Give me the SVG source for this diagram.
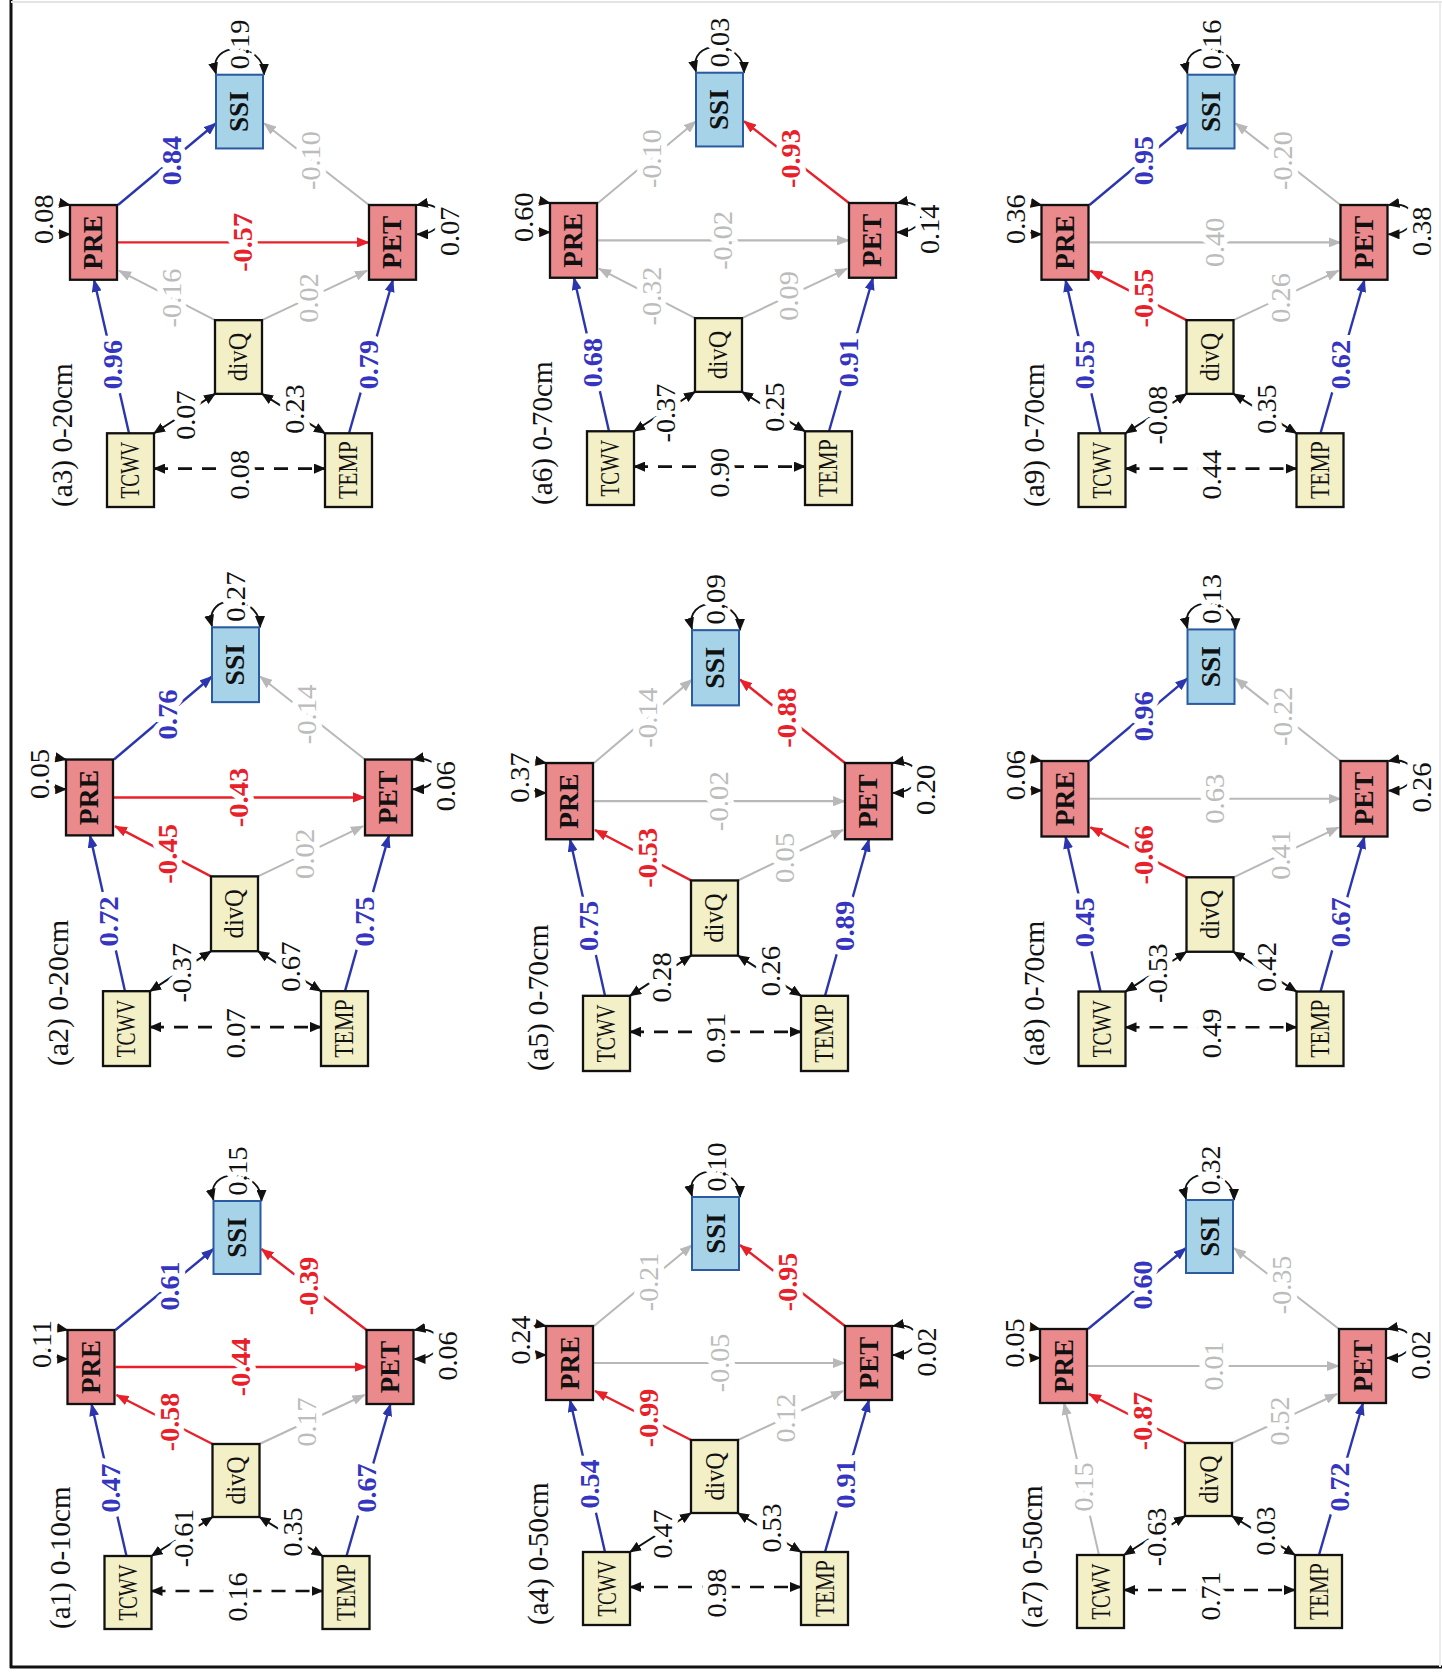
<svg xmlns="http://www.w3.org/2000/svg" width="1442" height="1675" viewBox="0 0 1442 1675">
<style>
  .title { font-family: "Liberation Serif", serif; font-size: 29px; fill: #111; }
  .nt { font-family: "Liberation Serif", serif; font-size: 27px; fill: #111; text-anchor: middle; dominant-baseline: central; }
  .nb { font-weight: bold; }
  .yl { fill: #f3efc6; stroke: #111; stroke-width: 2.3; }
  .rd { fill: #ea8a8c; stroke: #111; stroke-width: 2.3; }
  .bl { fill: #a7d3e8; stroke: #2a5aa0; stroke-width: 2; }
  .e { fill: none; stroke-width: 2.4; }
  .b { stroke: #2b36ae; marker-end: url(#ab); }
  .r { stroke: #e8202a; marker-end: url(#ar); }
  .g { stroke: #b8b8b8; stroke-width: 2; marker-end: url(#ag); }
  .cov { fill: none; stroke: #111; stroke-width: 2; marker-start: url(#ak); marker-end: url(#ak); }
  .dash { stroke-width: 2.6; stroke-dasharray: 14 10; }
  .res { fill: none; stroke: #111; stroke-width: 1.8; marker-start: url(#ak); marker-end: url(#ak); }
  .lab { font-family: "Liberation Serif", serif; font-size: 28px; text-anchor: middle; dominant-baseline: central; stroke: #fff; stroke-width: 12; stroke-linejoin: round; paint-order: stroke; }
  .lb { fill: #3535c0; font-weight: bold; }
  .lr { fill: #e8202a; font-weight: bold; }
  .lg { fill: #bcbcbc; }
  .lk { fill: #111; }
</style>
<defs>
  <marker id="ab" viewBox="0 0 13 10" refX="12" refY="5" markerWidth="13" markerHeight="10" markerUnits="userSpaceOnUse" orient="auto"><path d="M0 0 L13 5 L0 10 z" fill="#2b36ae"/></marker>
  <marker id="ar" viewBox="0 0 13 10" refX="12" refY="5" markerWidth="13" markerHeight="10" markerUnits="userSpaceOnUse" orient="auto"><path d="M0 0 L13 5 L0 10 z" fill="#e8202a"/></marker>
  <marker id="ag" viewBox="0 0 13 10" refX="12" refY="5" markerWidth="13" markerHeight="10" markerUnits="userSpaceOnUse" orient="auto"><path d="M0 0 L13 5 L0 10 z" fill="#b8b8b8"/></marker>
  <marker id="ak" viewBox="0 0 12 10" refX="11" refY="5" markerWidth="12" markerHeight="10" markerUnits="userSpaceOnUse" orient="auto-start-reverse"><path d="M0 0 L12 5 L0 10 z" fill="#111"/></marker>
</defs>

<rect width="1442" height="1675" fill="#fff"/>
<!-- frame -->
<g id="frame">
  <line x1="11" y1="0" x2="11" y2="1668" stroke="#111" stroke-width="3"/>
  <line x1="10" y1="1667" x2="1442" y2="1667" stroke="#111" stroke-width="3"/>
  <line x1="11" y1="2" x2="1442" y2="2" stroke="#e4e4e4" stroke-width="2"/>
  <line x1="1440" y1="2" x2="1440" y2="1667" stroke="#ececec" stroke-width="2"/>
</g>

<!-- ===== (a1) ===== -->
<g id="a1" transform="translate(104.5 1629) rotate(-90)">
  <text class="title" x="0" y="-35">(a1) 0-10cm</text>
  <g id="a1-links">
    <path class="e b" d="M73 22 L225 -13"/>
    <path class="e b" d="M73 242 L225 286"/>
    <path class="e r" d="M185 108 L234 12"/>
    <path class="e g" d="M185 155 L234 260"/>
    <path class="e r" d="M262 11 L262 262"/>
    <path class="e b" d="M299 11 L380 109"/>
    <path class="e r" d="M299 262 L380 157"/>
    <path class="cov dash" d="M38 47 L38 218"/>
    <path class="cov" d="M73 47 L112 108"/>
    <path class="cov" d="M112 155 L73 218"/>
    <path class="res" d="M270 -37 C270 -70 305 -68 299 -37"/>
    <path class="res" d="M270 310 C270 343 305 341 299 310"/>
    <path class="res" d="M428 157 C462 157 462 100 429 109"/>
    <text class="lab lb" x="141" y="6">0.47</text>
    <text class="lab lb" x="141" y="262">0.67</text>
    <text class="lab lr" x="207" y="65">-0.58</text>
    <text class="lab lg" x="207" y="202">0.17</text>
    <text class="lab lr" x="262" y="136">-0.44</text>
    <text class="lab lb" x="343" y="65">0.61</text>
    <text class="lab lr" x="343" y="204">-0.39</text>
    <text class="lab lk" x="32" y="133">0.16</text>
    <text class="lab lk" x="91" y="79">-0.61</text>
    <text class="lab lk" x="97" y="188">0.35</text>
    <text class="lab lk" x="285" y="-63">0.11</text>
    <text class="lab lk" x="273" y="343">0.06</text>
    <text class="lab lk" x="458" y="133">0.15</text>
  </g>
  <g id="a1-TCWV"><rect class="yl" x="0" y="0" width="73" height="47"/><text class="nt" x="36.5" y="23.5" textLength="56" lengthAdjust="spacingAndGlyphs">TCWV</text></g>
  <g id="a1-TEMP"><rect class="yl" x="0" y="218" width="73" height="47"/><text class="nt" x="36.5" y="241.5" textLength="57" lengthAdjust="spacingAndGlyphs">TEMP</text></g>
  <g id="a1-divQ"><rect class="yl" x="112" y="108" width="73" height="47"/><text class="nt" x="148.5" y="131.5" textLength="48" lengthAdjust="spacingAndGlyphs">divQ</text></g>
  <g id="a1-PRE"><rect class="rd" x="225" y="-37" width="74" height="47"/><text class="nt nb" x="262" y="-13.5">PRE</text></g>
  <g id="a1-PET"><rect class="rd" x="225" y="262" width="74" height="47"/><text class="nt nb" x="262" y="285.5">PET</text></g>
  <g id="a1-SSI"><rect class="bl" x="355" y="109" width="73" height="47"/><text class="nt nb" x="391.5" y="132.5">SSI</text></g>
</g>

<!-- ===== (a2) ===== -->
<g id="a2" transform="translate(103 1066) rotate(-90) scale(1.025 1)">
  <text class="title" x="0" y="-35">(a2) 0-20cm</text>
  <g id="a2-links">
    <path class="e b" d="M73 22 L225 -13"/>
    <path class="e b" d="M73 242 L225 286"/>
    <path class="e r" d="M185 108 L234 12"/>
    <path class="e g" d="M185 155 L234 260"/>
    <path class="e r" d="M262 11 L262 262"/>
    <path class="e b" d="M299 11 L380 109"/>
    <path class="e g" d="M299 262 L380 157"/>
    <path class="cov dash" d="M38 47 L38 218"/>
    <path class="cov" d="M73 47 L112 108"/>
    <path class="cov" d="M112 155 L73 218"/>
    <path class="res" d="M270 -37 C270 -70 305 -68 299 -37"/>
    <path class="res" d="M270 310 C270 343 305 341 299 310"/>
    <path class="res" d="M428 157 C462 157 462 100 429 109"/>
    <text class="lab lb" x="141" y="6">0.72</text>
    <text class="lab lb" x="141" y="262">0.75</text>
    <text class="lab lr" x="207" y="65">-0.45</text>
    <text class="lab lg" x="207" y="202">0.02</text>
    <text class="lab lr" x="262" y="136">-0.43</text>
    <text class="lab lb" x="343" y="65">0.76</text>
    <text class="lab lg" x="343" y="204">-0.14</text>
    <text class="lab lk" x="32" y="133">0.07</text>
    <text class="lab lk" x="91" y="79">-0.37</text>
    <text class="lab lk" x="97" y="188">0.67</text>
    <text class="lab lk" x="285" y="-63">0.05</text>
    <text class="lab lk" x="273" y="343">0.06</text>
    <text class="lab lk" x="458" y="133">0.27</text>
  </g>
  <g id="a2-TCWV"><rect class="yl" x="0" y="0" width="73" height="47"/><text class="nt" x="36.5" y="23.5" textLength="56" lengthAdjust="spacingAndGlyphs">TCWV</text></g>
  <g id="a2-TEMP"><rect class="yl" x="0" y="218" width="73" height="47"/><text class="nt" x="36.5" y="241.5" textLength="57" lengthAdjust="spacingAndGlyphs">TEMP</text></g>
  <g id="a2-divQ"><rect class="yl" x="112" y="108" width="73" height="47"/><text class="nt" x="148.5" y="131.5" textLength="48" lengthAdjust="spacingAndGlyphs">divQ</text></g>
  <g id="a2-PRE"><rect class="rd" x="225" y="-37" width="74" height="47"/><text class="nt nb" x="262" y="-13.5">PRE</text></g>
  <g id="a2-PET"><rect class="rd" x="225" y="262" width="74" height="47"/><text class="nt nb" x="262" y="285.5">PET</text></g>
  <g id="a2-SSI"><rect class="bl" x="355" y="109" width="73" height="47"/><text class="nt nb" x="391.5" y="132.5">SSI</text></g>
</g>

<!-- ===== (a3) ===== -->
<g id="a3" transform="translate(107 507) rotate(-90) scale(1.01 1)">
  <text class="title" x="0" y="-35">(a3) 0-20cm</text>
  <g id="a3-links">
    <path class="e b" d="M73 22 L225 -13"/>
    <path class="e b" d="M73 242 L225 286"/>
    <path class="e g" d="M185 108 L234 12"/>
    <path class="e g" d="M185 155 L234 260"/>
    <path class="e r" d="M262 11 L262 262"/>
    <path class="e b" d="M299 11 L380 109"/>
    <path class="e g" d="M299 262 L380 157"/>
    <path class="cov dash" d="M38 47 L38 218"/>
    <path class="cov" d="M73 47 L112 108"/>
    <path class="cov" d="M112 155 L73 218"/>
    <path class="res" d="M270 -37 C270 -70 305 -68 299 -37"/>
    <path class="res" d="M270 310 C270 343 305 341 299 310"/>
    <path class="res" d="M428 157 C462 157 462 100 429 109"/>
    <text class="lab lb" x="141" y="6">0.96</text>
    <text class="lab lb" x="141" y="262">0.79</text>
    <text class="lab lg" x="207" y="65">-0.16</text>
    <text class="lab lg" x="207" y="202">0.02</text>
    <text class="lab lr" x="262" y="136">-0.57</text>
    <text class="lab lb" x="343" y="65">0.84</text>
    <text class="lab lg" x="343" y="204">-0.10</text>
    <text class="lab lk" x="32" y="133">0.08</text>
    <text class="lab lk" x="91" y="79">0.07</text>
    <text class="lab lk" x="97" y="188">0.23</text>
    <text class="lab lk" x="285" y="-63">0.08</text>
    <text class="lab lk" x="273" y="343">0.07</text>
    <text class="lab lk" x="458" y="133">0.19</text>
  </g>
  <g id="a3-TCWV"><rect class="yl" x="0" y="0" width="73" height="47"/><text class="nt" x="36.5" y="23.5" textLength="56" lengthAdjust="spacingAndGlyphs">TCWV</text></g>
  <g id="a3-TEMP"><rect class="yl" x="0" y="218" width="73" height="47"/><text class="nt" x="36.5" y="241.5" textLength="57" lengthAdjust="spacingAndGlyphs">TEMP</text></g>
  <g id="a3-divQ"><rect class="yl" x="112" y="108" width="73" height="47"/><text class="nt" x="148.5" y="131.5" textLength="48" lengthAdjust="spacingAndGlyphs">divQ</text></g>
  <g id="a3-PRE"><rect class="rd" x="225" y="-37" width="74" height="47"/><text class="nt nb" x="262" y="-13.5">PRE</text></g>
  <g id="a3-PET"><rect class="rd" x="225" y="262" width="74" height="47"/><text class="nt nb" x="262" y="285.5">PET</text></g>
  <g id="a3-SSI"><rect class="bl" x="355" y="109" width="73" height="47"/><text class="nt nb" x="391.5" y="132.5">SSI</text></g>
</g>

<!-- ===== (a4) ===== -->
<g id="a4" transform="translate(583 1625) rotate(-90)">
  <text class="title" x="0" y="-35">(a4) 0-50cm</text>
  <g id="a4-links">
    <path class="e b" d="M73 22 L225 -13"/>
    <path class="e b" d="M73 242 L225 286"/>
    <path class="e r" d="M185 108 L234 12"/>
    <path class="e g" d="M185 155 L234 260"/>
    <path class="e g" d="M262 11 L262 262"/>
    <path class="e g" d="M299 11 L380 109"/>
    <path class="e r" d="M299 262 L380 157"/>
    <path class="cov dash" d="M38 47 L38 218"/>
    <path class="cov" d="M73 47 L112 108"/>
    <path class="cov" d="M112 155 L73 218"/>
    <path class="res" d="M270 -37 C270 -70 305 -68 299 -37"/>
    <path class="res" d="M270 310 C270 343 305 341 299 310"/>
    <path class="res" d="M428 157 C462 157 462 100 429 109"/>
    <text class="lab lb" x="141" y="6">0.54</text>
    <text class="lab lb" x="141" y="262">0.91</text>
    <text class="lab lr" x="207" y="65">-0.99</text>
    <text class="lab lg" x="207" y="202">0.12</text>
    <text class="lab lg" x="262" y="136">-0.05</text>
    <text class="lab lg" x="343" y="65">-0.21</text>
    <text class="lab lr" x="343" y="204">-0.95</text>
    <text class="lab lk" x="32" y="133">0.98</text>
    <text class="lab lk" x="91" y="79">0.47</text>
    <text class="lab lk" x="97" y="188">0.53</text>
    <text class="lab lk" x="285" y="-63">0.24</text>
    <text class="lab lk" x="273" y="343">0.02</text>
    <text class="lab lk" x="458" y="133">0.10</text>
  </g>
  <g id="a4-TCWV"><rect class="yl" x="0" y="0" width="73" height="47"/><text class="nt" x="36.5" y="23.5" textLength="56" lengthAdjust="spacingAndGlyphs">TCWV</text></g>
  <g id="a4-TEMP"><rect class="yl" x="0" y="218" width="73" height="47"/><text class="nt" x="36.5" y="241.5" textLength="57" lengthAdjust="spacingAndGlyphs">TEMP</text></g>
  <g id="a4-divQ"><rect class="yl" x="112" y="108" width="73" height="47"/><text class="nt" x="148.5" y="131.5" textLength="48" lengthAdjust="spacingAndGlyphs">divQ</text></g>
  <g id="a4-PRE"><rect class="rd" x="225" y="-37" width="74" height="47"/><text class="nt nb" x="262" y="-13.5">PRE</text></g>
  <g id="a4-PET"><rect class="rd" x="225" y="262" width="74" height="47"/><text class="nt nb" x="262" y="285.5">PET</text></g>
  <g id="a4-SSI"><rect class="bl" x="355" y="109" width="73" height="47"/><text class="nt nb" x="391.5" y="132.5">SSI</text></g>
</g>

<!-- ===== (a5) ===== -->
<g id="a5" transform="translate(583 1071) rotate(-90) scale(1.03 1)">
  <text class="title" x="0" y="-35">(a5) 0-70cm</text>
  <g id="a5-links">
    <path class="e b" d="M73 22 L225 -13"/>
    <path class="e b" d="M73 242 L225 286"/>
    <path class="e r" d="M185 108 L234 12"/>
    <path class="e g" d="M185 155 L234 260"/>
    <path class="e g" d="M262 11 L262 262"/>
    <path class="e g" d="M299 11 L380 109"/>
    <path class="e r" d="M299 262 L380 157"/>
    <path class="cov dash" d="M38 47 L38 218"/>
    <path class="cov" d="M73 47 L112 108"/>
    <path class="cov" d="M112 155 L73 218"/>
    <path class="res" d="M270 -37 C270 -70 305 -68 299 -37"/>
    <path class="res" d="M270 310 C270 343 305 341 299 310"/>
    <path class="res" d="M428 157 C462 157 462 100 429 109"/>
    <text class="lab lb" x="141" y="6">0.75</text>
    <text class="lab lb" x="141" y="262">0.89</text>
    <text class="lab lr" x="207" y="65">-0.53</text>
    <text class="lab lg" x="207" y="202">0.05</text>
    <text class="lab lg" x="262" y="136">-0.02</text>
    <text class="lab lg" x="343" y="65">-0.14</text>
    <text class="lab lr" x="343" y="204">-0.88</text>
    <text class="lab lk" x="32" y="133">0.91</text>
    <text class="lab lk" x="91" y="79">0.28</text>
    <text class="lab lk" x="97" y="188">0.26</text>
    <text class="lab lk" x="285" y="-63">0.37</text>
    <text class="lab lk" x="273" y="343">0.20</text>
    <text class="lab lk" x="458" y="133">0.09</text>
  </g>
  <g id="a5-TCWV"><rect class="yl" x="0" y="0" width="73" height="47"/><text class="nt" x="36.5" y="23.5" textLength="56" lengthAdjust="spacingAndGlyphs">TCWV</text></g>
  <g id="a5-TEMP"><rect class="yl" x="0" y="218" width="73" height="47"/><text class="nt" x="36.5" y="241.5" textLength="57" lengthAdjust="spacingAndGlyphs">TEMP</text></g>
  <g id="a5-divQ"><rect class="yl" x="112" y="108" width="73" height="47"/><text class="nt" x="148.5" y="131.5" textLength="48" lengthAdjust="spacingAndGlyphs">divQ</text></g>
  <g id="a5-PRE"><rect class="rd" x="225" y="-37" width="74" height="47"/><text class="nt nb" x="262" y="-13.5">PRE</text></g>
  <g id="a5-PET"><rect class="rd" x="225" y="262" width="74" height="47"/><text class="nt nb" x="262" y="285.5">PET</text></g>
  <g id="a5-SSI"><rect class="bl" x="355" y="109" width="73" height="47"/><text class="nt nb" x="391.5" y="132.5">SSI</text></g>
</g>

<!-- ===== (a6) ===== -->
<g id="a6" transform="translate(587 505) rotate(-90) scale(1.01 1)">
  <text class="title" x="0" y="-35">(a6) 0-70cm</text>
  <g id="a6-links">
    <path class="e b" d="M73 22 L225 -13"/>
    <path class="e b" d="M73 242 L225 286"/>
    <path class="e g" d="M185 108 L234 12"/>
    <path class="e g" d="M185 155 L234 260"/>
    <path class="e g" d="M262 11 L262 262"/>
    <path class="e g" d="M299 11 L380 109"/>
    <path class="e r" d="M299 262 L380 157"/>
    <path class="cov dash" d="M38 47 L38 218"/>
    <path class="cov" d="M73 47 L112 108"/>
    <path class="cov" d="M112 155 L73 218"/>
    <path class="res" d="M270 -37 C270 -70 305 -68 299 -37"/>
    <path class="res" d="M270 310 C270 343 305 341 299 310"/>
    <path class="res" d="M428 157 C462 157 462 100 429 109"/>
    <text class="lab lb" x="141" y="6">0.68</text>
    <text class="lab lb" x="141" y="262">0.91</text>
    <text class="lab lg" x="207" y="65">-0.32</text>
    <text class="lab lg" x="207" y="202">0.09</text>
    <text class="lab lg" x="262" y="136">-0.02</text>
    <text class="lab lg" x="343" y="65">-0.10</text>
    <text class="lab lr" x="343" y="204">-0.93</text>
    <text class="lab lk" x="32" y="133">0.90</text>
    <text class="lab lk" x="91" y="79">-0.37</text>
    <text class="lab lk" x="97" y="188">0.25</text>
    <text class="lab lk" x="285" y="-63">0.60</text>
    <text class="lab lk" x="273" y="343">0.14</text>
    <text class="lab lk" x="458" y="133">0.03</text>
  </g>
  <g id="a6-TCWV"><rect class="yl" x="0" y="0" width="73" height="47"/><text class="nt" x="36.5" y="23.5" textLength="56" lengthAdjust="spacingAndGlyphs">TCWV</text></g>
  <g id="a6-TEMP"><rect class="yl" x="0" y="218" width="73" height="47"/><text class="nt" x="36.5" y="241.5" textLength="57" lengthAdjust="spacingAndGlyphs">TEMP</text></g>
  <g id="a6-divQ"><rect class="yl" x="112" y="108" width="73" height="47"/><text class="nt" x="148.5" y="131.5" textLength="48" lengthAdjust="spacingAndGlyphs">divQ</text></g>
  <g id="a6-PRE"><rect class="rd" x="225" y="-37" width="74" height="47"/><text class="nt nb" x="262" y="-13.5">PRE</text></g>
  <g id="a6-PET"><rect class="rd" x="225" y="262" width="74" height="47"/><text class="nt nb" x="262" y="285.5">PET</text></g>
  <g id="a6-SSI"><rect class="bl" x="355" y="109" width="73" height="47"/><text class="nt nb" x="391.5" y="132.5">SSI</text></g>
</g>

<!-- ===== (a7) ===== -->
<g id="a7" transform="translate(1077 1628) rotate(-90)">
  <text class="title" x="0" y="-35">(a7) 0-50cm</text>
  <g id="a7-links">
    <path class="e g" d="M73 22 L225 -13"/>
    <path class="e b" d="M73 242 L225 286"/>
    <path class="e r" d="M185 108 L234 12"/>
    <path class="e g" d="M185 155 L234 260"/>
    <path class="e g" d="M262 11 L262 262"/>
    <path class="e b" d="M299 11 L380 109"/>
    <path class="e g" d="M299 262 L380 157"/>
    <path class="cov dash" d="M38 47 L38 218"/>
    <path class="cov" d="M73 47 L112 108"/>
    <path class="cov" d="M112 155 L73 218"/>
    <path class="res" d="M270 -37 C270 -70 305 -68 299 -37"/>
    <path class="res" d="M270 310 C270 343 305 341 299 310"/>
    <path class="res" d="M428 157 C462 157 462 100 429 109"/>
    <text class="lab lg" x="141" y="6">0.15</text>
    <text class="lab lb" x="141" y="262">0.72</text>
    <text class="lab lr" x="207" y="65">-0.87</text>
    <text class="lab lg" x="207" y="202">0.52</text>
    <text class="lab lg" x="262" y="136">0.01</text>
    <text class="lab lb" x="343" y="65">0.60</text>
    <text class="lab lg" x="343" y="204">-0.35</text>
    <text class="lab lk" x="32" y="133">0.71</text>
    <text class="lab lk" x="91" y="79">-0.63</text>
    <text class="lab lk" x="97" y="188">0.03</text>
    <text class="lab lk" x="285" y="-63">0.05</text>
    <text class="lab lk" x="273" y="343">0.02</text>
    <text class="lab lk" x="458" y="133">0.32</text>
  </g>
  <g id="a7-TCWV"><rect class="yl" x="0" y="0" width="73" height="47"/><text class="nt" x="36.5" y="23.5" textLength="56" lengthAdjust="spacingAndGlyphs">TCWV</text></g>
  <g id="a7-TEMP"><rect class="yl" x="0" y="218" width="73" height="47"/><text class="nt" x="36.5" y="241.5" textLength="57" lengthAdjust="spacingAndGlyphs">TEMP</text></g>
  <g id="a7-divQ"><rect class="yl" x="112" y="108" width="73" height="47"/><text class="nt" x="148.5" y="131.5" textLength="48" lengthAdjust="spacingAndGlyphs">divQ</text></g>
  <g id="a7-PRE"><rect class="rd" x="225" y="-37" width="74" height="47"/><text class="nt nb" x="262" y="-13.5">PRE</text></g>
  <g id="a7-PET"><rect class="rd" x="225" y="262" width="74" height="47"/><text class="nt nb" x="262" y="285.5">PET</text></g>
  <g id="a7-SSI"><rect class="bl" x="355" y="109" width="73" height="47"/><text class="nt nb" x="391.5" y="132.5">SSI</text></g>
</g>

<!-- ===== (a8) ===== -->
<g id="a8" transform="translate(1078.5 1066) rotate(-90) scale(1.02 1)">
  <text class="title" x="0" y="-35">(a8) 0-70cm</text>
  <g id="a8-links">
    <path class="e b" d="M73 22 L225 -13"/>
    <path class="e b" d="M73 242 L225 286"/>
    <path class="e r" d="M185 108 L234 12"/>
    <path class="e g" d="M185 155 L234 260"/>
    <path class="e g" d="M262 11 L262 262"/>
    <path class="e b" d="M299 11 L380 109"/>
    <path class="e g" d="M299 262 L380 157"/>
    <path class="cov dash" d="M38 47 L38 218"/>
    <path class="cov" d="M73 47 L112 108"/>
    <path class="cov" d="M112 155 L73 218"/>
    <path class="res" d="M270 -37 C270 -70 305 -68 299 -37"/>
    <path class="res" d="M270 310 C270 343 305 341 299 310"/>
    <path class="res" d="M428 157 C462 157 462 100 429 109"/>
    <text class="lab lb" x="141" y="6">0.45</text>
    <text class="lab lb" x="141" y="262">0.67</text>
    <text class="lab lr" x="207" y="65">-0.66</text>
    <text class="lab lg" x="207" y="202">0.41</text>
    <text class="lab lg" x="262" y="136">0.63</text>
    <text class="lab lb" x="343" y="65">0.96</text>
    <text class="lab lg" x="343" y="204">-0.22</text>
    <text class="lab lk" x="32" y="133">0.49</text>
    <text class="lab lk" x="91" y="79">-0.53</text>
    <text class="lab lk" x="97" y="188">0.42</text>
    <text class="lab lk" x="285" y="-63">0.06</text>
    <text class="lab lk" x="273" y="343">0.26</text>
    <text class="lab lk" x="458" y="133">0.13</text>
  </g>
  <g id="a8-TCWV"><rect class="yl" x="0" y="0" width="73" height="47"/><text class="nt" x="36.5" y="23.5" textLength="56" lengthAdjust="spacingAndGlyphs">TCWV</text></g>
  <g id="a8-TEMP"><rect class="yl" x="0" y="218" width="73" height="47"/><text class="nt" x="36.5" y="241.5" textLength="57" lengthAdjust="spacingAndGlyphs">TEMP</text></g>
  <g id="a8-divQ"><rect class="yl" x="112" y="108" width="73" height="47"/><text class="nt" x="148.5" y="131.5" textLength="48" lengthAdjust="spacingAndGlyphs">divQ</text></g>
  <g id="a8-PRE"><rect class="rd" x="225" y="-37" width="74" height="47"/><text class="nt nb" x="262" y="-13.5">PRE</text></g>
  <g id="a8-PET"><rect class="rd" x="225" y="262" width="74" height="47"/><text class="nt nb" x="262" y="285.5">PET</text></g>
  <g id="a8-SSI"><rect class="bl" x="355" y="109" width="73" height="47"/><text class="nt nb" x="391.5" y="132.5">SSI</text></g>
</g>

<!-- ===== (a9) ===== -->
<g id="a9" transform="translate(1078.5 507) rotate(-90) scale(1.01 1)">
  <text class="title" x="0" y="-35">(a9) 0-70cm</text>
  <g id="a9-links">
    <path class="e b" d="M73 22 L225 -13"/>
    <path class="e b" d="M73 242 L225 286"/>
    <path class="e r" d="M185 108 L234 12"/>
    <path class="e g" d="M185 155 L234 260"/>
    <path class="e g" d="M262 11 L262 262"/>
    <path class="e b" d="M299 11 L380 109"/>
    <path class="e g" d="M299 262 L380 157"/>
    <path class="cov dash" d="M38 47 L38 218"/>
    <path class="cov" d="M73 47 L112 108"/>
    <path class="cov" d="M112 155 L73 218"/>
    <path class="res" d="M270 -37 C270 -70 305 -68 299 -37"/>
    <path class="res" d="M270 310 C270 343 305 341 299 310"/>
    <path class="res" d="M428 157 C462 157 462 100 429 109"/>
    <text class="lab lb" x="141" y="6">0.55</text>
    <text class="lab lb" x="141" y="262">0.62</text>
    <text class="lab lr" x="207" y="65">-0.55</text>
    <text class="lab lg" x="207" y="202">0.26</text>
    <text class="lab lg" x="262" y="136">0.40</text>
    <text class="lab lb" x="343" y="65">0.95</text>
    <text class="lab lg" x="343" y="204">-0.20</text>
    <text class="lab lk" x="32" y="133">0.44</text>
    <text class="lab lk" x="91" y="79">-0.08</text>
    <text class="lab lk" x="97" y="188">0.35</text>
    <text class="lab lk" x="285" y="-63">0.36</text>
    <text class="lab lk" x="273" y="343">0.38</text>
    <text class="lab lk" x="458" y="133">0.16</text>
  </g>
  <g id="a9-TCWV"><rect class="yl" x="0" y="0" width="73" height="47"/><text class="nt" x="36.5" y="23.5" textLength="56" lengthAdjust="spacingAndGlyphs">TCWV</text></g>
  <g id="a9-TEMP"><rect class="yl" x="0" y="218" width="73" height="47"/><text class="nt" x="36.5" y="241.5" textLength="57" lengthAdjust="spacingAndGlyphs">TEMP</text></g>
  <g id="a9-divQ"><rect class="yl" x="112" y="108" width="73" height="47"/><text class="nt" x="148.5" y="131.5" textLength="48" lengthAdjust="spacingAndGlyphs">divQ</text></g>
  <g id="a9-PRE"><rect class="rd" x="225" y="-37" width="74" height="47"/><text class="nt nb" x="262" y="-13.5">PRE</text></g>
  <g id="a9-PET"><rect class="rd" x="225" y="262" width="74" height="47"/><text class="nt nb" x="262" y="285.5">PET</text></g>
  <g id="a9-SSI"><rect class="bl" x="355" y="109" width="73" height="47"/><text class="nt nb" x="391.5" y="132.5">SSI</text></g>
</g>
</svg>
